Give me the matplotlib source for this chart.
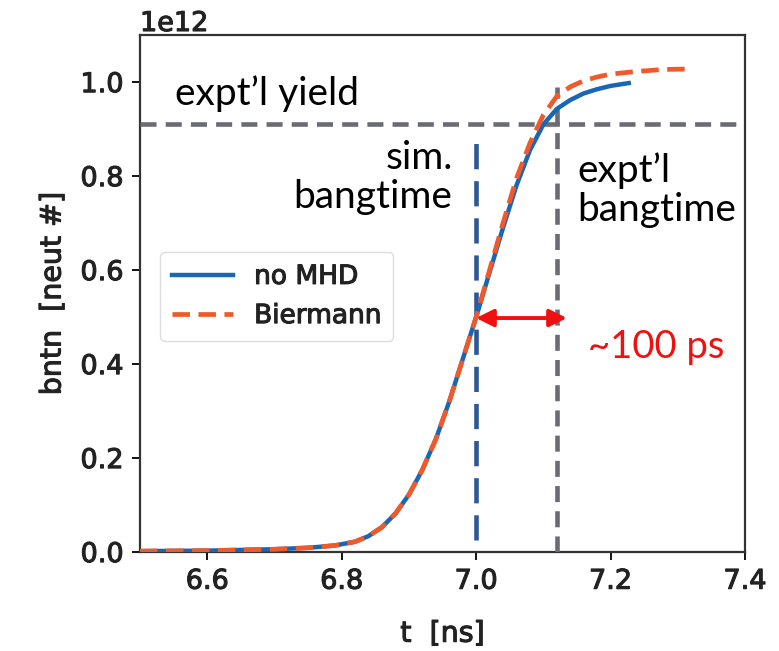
import numpy as np
import matplotlib
matplotlib.use('Agg')
import matplotlib.pyplot as plt
import matplotlib.patheffects as pe

# yield curves (t in ns, yield in units of 1e12)
t_nomhd = [6.50, 6.60, 6.70, 6.75, 6.79, 6.82, 6.84, 6.86, 6.88, 6.90, 6.92, 6.94, 6.96,
           6.98, 7.00, 7.02, 7.04, 7.06, 7.08, 7.10, 7.12, 7.14, 7.16, 7.18, 7.20, 7.227]
y_nomhd = [0.002, 0.003, 0.006, 0.009, 0.014, 0.022, 0.034, 0.053, 0.082, 0.122, 0.175,
           0.24, 0.32, 0.41, 0.50, 0.595, 0.69, 0.78, 0.855, 0.91, 0.943, 0.962, 0.976,
           0.985, 0.992, 0.998]

t_bier = [6.50, 6.60, 6.70, 6.75, 6.79, 6.82, 6.84, 6.86, 6.88, 6.90, 6.92, 6.94, 6.96,
          6.98, 7.00, 7.02, 7.04, 7.06, 7.08, 7.10, 7.12, 7.14, 7.16, 7.18, 7.20, 7.24,
          7.28, 7.318]
y_bier = [0.002, 0.003, 0.006, 0.009, 0.014, 0.022, 0.034, 0.053, 0.082, 0.122, 0.175,
          0.24, 0.32, 0.41, 0.50, 0.60, 0.70, 0.795, 0.87, 0.93, 0.97, 0.99, 1.003, 1.011,
          1.017, 1.023, 1.027, 1.028]

expt_yield = 0.91
sim_bangtime = 7.0
expt_bangtime = 7.12
scale = 1e12

fig = plt.figure(figsize=(7.79, 6.51), dpi=100)
ax = fig.add_axes([0.1797, 0.152, 0.7767, 0.794])

ax.plot(t_nomhd, np.array(y_nomhd) * scale, color='#1767b5', lw=3.2, label='no MHD', zorder=4)
ax.plot(t_bier, np.array(y_bier) * scale, color='#f05a2a', lw=3.4, ls=(0, (3.7, 1.8)),
        label='Biermann', zorder=5)

ax.axhline(expt_yield * scale, color='#6b6b74', lw=3.3, ls=(0, (3.5, 2.0)), zorder=3)
ax.plot([sim_bangtime, sim_bangtime], [0.025 * scale, 0.89 * scale], color='#2c5896',
        lw=3.3, ls=(0, (5.5, 2.6)), zorder=3)
ax.plot([expt_bangtime, expt_bangtime], [0, 0.99 * scale], color='#6b6b74',
        lw=3.3, ls=(0, (3.5, 2.0)), zorder=3)

ax.annotate('', xy=(sim_bangtime, 0.498 * scale), xytext=(7.135, 0.498 * scale),
            arrowprops=dict(arrowstyle='<|-|>', color='#f01010', lw=2.8,
                            mutation_scale=26, shrinkA=0, shrinkB=0), zorder=6)

tfont = 'Lato'
ax.text(6.552, 0.975 * scale, "expt\u2019l yield", fontsize=28, family=tfont,
        ha='left', va='center')
ax.text(6.965, 0.797 * scale, "sim.\nbangtime", fontsize=28, family=tfont,
        ha='right', va='center', multialignment='right', linespacing=1.1)
ax.text(7.151, 0.77 * scale, "expt\u2019l\nbangtime", fontsize=28, family=tfont,
        ha='left', va='center', multialignment='left', linespacing=1.1)
ax.text(7.166, 0.436 * scale, "~100 ps", fontsize=27.5, family=tfont, color='#f01010',
        ha='left', va='center')

ax.set_xlim(6.5, 7.4)
ax.set_ylim(0, 1.1 * scale)
ax.set_xticks([6.6, 6.8, 7.0, 7.2, 7.4])
ax.set_yticks(np.arange(0, 1.01, 0.2) * scale)
ax.tick_params(axis='both', labelsize=19.5, length=6, width=1.3, pad=6)
ax.yaxis.get_offset_text().set_fontsize(19.5)
thick = [pe.withStroke(linewidth=0.8, foreground='#222222')]
for lab in ax.get_xticklabels() + ax.get_yticklabels() + [ax.yaxis.get_offset_text()]:
    lab.set_color('#222222')
    lab.set_path_effects(thick)
for s in ax.spines.values():
    s.set_linewidth(1.6)
    s.set_color('#333333')
ax.set_xlabel('t  [ns]', fontsize=20.5, labelpad=18, color='#222222', path_effects=thick)
ax.set_ylabel('bntn  [neut #]', fontsize=20.5, labelpad=10, color='#222222',
              path_effects=thick)

leg = ax.legend(loc='upper left', bbox_to_anchor=(0.012, 0.606), fontsize=19,
                handlelength=2.3, framealpha=1, edgecolor='#dddddd', borderpad=0.45)
for t in leg.get_texts():
    t.set_color('#222222')
    t.set_path_effects(thick)

fig.savefig('out.png', dpi=100)
